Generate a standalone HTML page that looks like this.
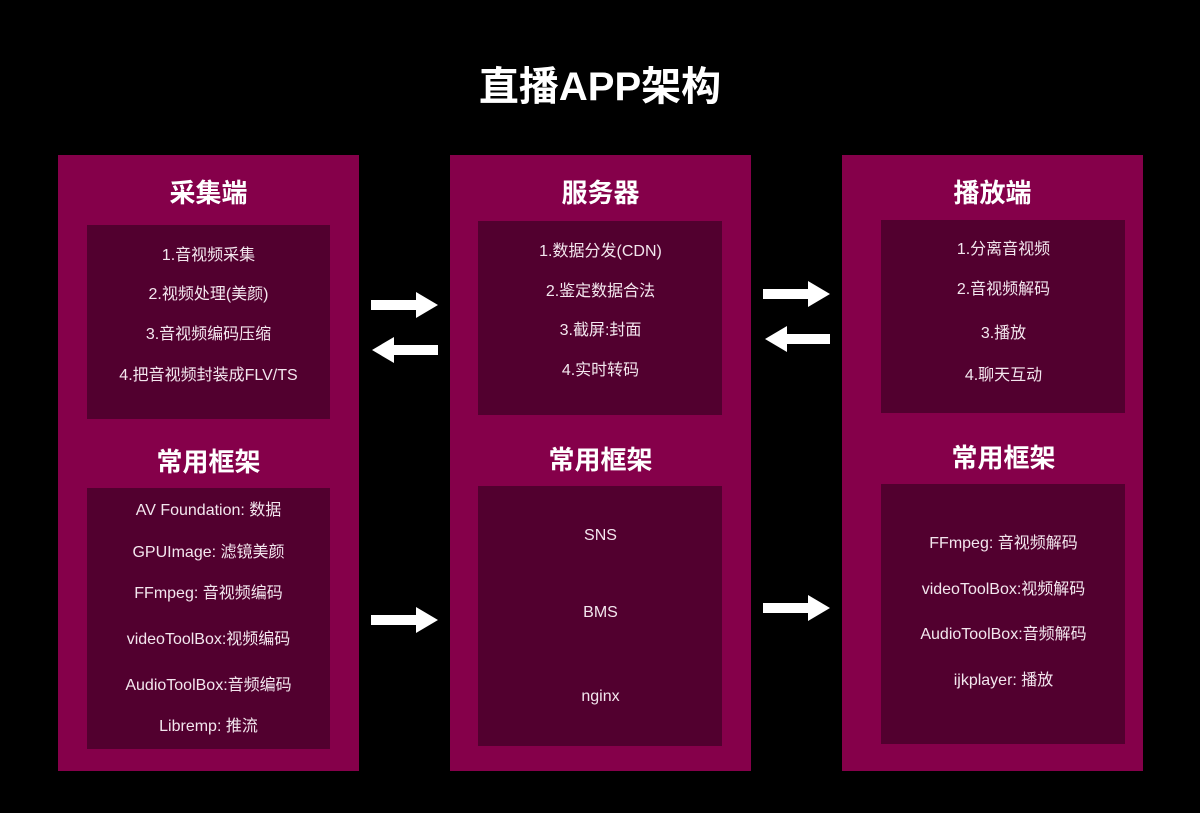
<!DOCTYPE html>
<html><head><meta charset="utf-8"><style>
body{margin:0;width:1200px;height:813px;background:#000;position:relative;overflow:hidden;font-family:"Liberation Sans","Noto Sans CJK SC",sans-serif;color:#f3e6ee}
.a{position:absolute}
.col{position:absolute;background:#85004a;top:155px;width:301px;height:616px}
.in{position:absolute;background:#52002f}
.h{position:absolute;left:0;width:301px;text-align:center;font-weight:bold;font-size:26px;color:#fff;line-height:30px}
.t{position:absolute;width:100%;text-align:center;font-size:16px;line-height:20px;left:0}
</style></head><body>
<div class="a" style="left:0;width:1200px;top:62px;text-align:center;font-size:40px;font-weight:bold;color:#fff;line-height:50px">直播APP架构</div>

<div class="col" style="left:58px">
<div class="h" style="top:23px">采集端</div>
<div class="in" style="left:29px;top:70px;width:243px;height:194px"></div>
<div class="t" style="top:91px">1.音视频采集</div>
<div class="t" style="top:130px">2.视频处理(美颜)</div>
<div class="t" style="top:170px">3.音视频编码压缩</div>
<div class="t" style="top:211px">4.把音视频封装成FLV/TS</div>
<div class="h" style="top:292px">常用框架</div>
<div class="in" style="left:29px;top:333px;width:243px;height:261px"></div>
<div class="t" style="top:346px">AV Foundation: 数据</div>
<div class="t" style="top:388px">GPUImage: 滤镜美颜</div>
<div class="t" style="top:429px">FFmpeg: 音视频编码</div>
<div class="t" style="top:475px">videoToolBox:视频编码</div>
<div class="t" style="top:521px">AudioToolBox:音频编码</div>
<div class="t" style="top:562px">Libremp: 推流</div>
</div>

<div class="col" style="left:450px">
<div class="h" style="top:23px">服务器</div>
<div class="in" style="left:28px;top:66px;width:244px;height:194px"></div>
<div class="t" style="top:87px">1.数据分发(CDN)</div>
<div class="t" style="top:127px">2.鉴定数据合法</div>
<div class="t" style="top:166px">3.截屏:封面</div>
<div class="t" style="top:206px">4.实时转码</div>
<div class="h" style="top:290px">常用框架</div>
<div class="in" style="left:28px;top:331px;width:244px;height:260px"></div>
<div class="t" style="top:371px">SNS</div>
<div class="t" style="top:448px">BMS</div>
<div class="t" style="top:532px">nginx</div>
</div>

<div class="col" style="left:842px">
<div class="h" style="top:23px">播放端</div>
<div class="in" style="left:39px;top:65px;width:244px;height:193px"></div>
<div class="t" style="top:85px;left:11px">1.分离音视频</div>
<div class="t" style="top:125px;left:11px">2.音视频解码</div>
<div class="t" style="top:169px;left:11px">3.播放</div>
<div class="t" style="top:211px;left:11px">4.聊天互动</div>
<div class="h" style="top:288px;left:11px">常用框架</div>
<div class="in" style="left:39px;top:329px;width:244px;height:260px"></div>
<div class="t" style="top:379px;left:11px">FFmpeg: 音视频解码</div>
<div class="t" style="top:425px;left:11px">videoToolBox:视频解码</div>
<div class="t" style="top:470px;left:11px">AudioToolBox:音频解码</div>
<div class="t" style="top:516px;left:11px">ijkplayer: 播放</div>
</div>

<svg class="a" style="left:0;top:0" width="1200" height="813">
<g fill="#fff">
<polygon points="371,300 416,300 416,292 438,305 416,318 416,310 371,310"/>
<polygon points="438,345 394,345 394,337 372,350 394,363 394,355 438,355"/>
<polygon points="371,615 416,615 416,607 438,620 416,633 416,625 371,625"/>
<polygon points="763,289 808,289 808,281 830,294 808,307 808,299 763,299"/>
<polygon points="830,334 787,334 787,326 765,339 787,352 787,344 830,344"/>
<polygon points="763,603 808,603 808,595 830,608 808,621 808,613 763,613"/>
</g></svg>
</body></html>
